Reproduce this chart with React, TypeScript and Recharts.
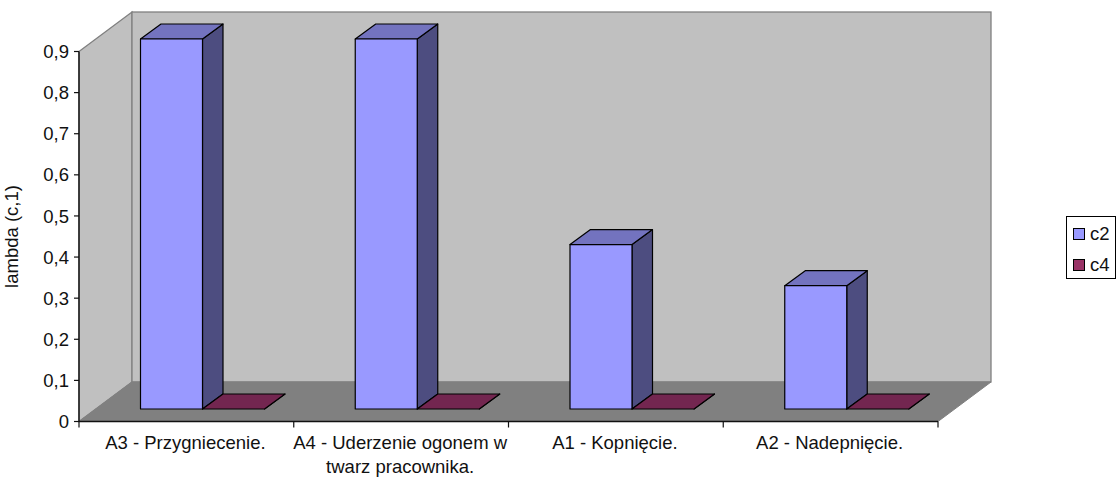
import React from "react";
import { BarChart, Bar, XAxis, YAxis, CartesianGrid, ReferenceArea, Legend, Text } from "recharts";

const categories = ["A3 - Przygniecenie.", "A4 - Uderzenie ogonem w twarz pracownika.", "A1 - Kopnięcie.", "A2 - Nadepnięcie."];
const c2Values = [0.9, 0.9, 0.4, 0.3];
const c4Values = [0, 0, 0, 0];
const yTicks = [0, 0.1, 0.2, 0.3, 0.4, 0.5, 0.6, 0.7, 0.8, 0.9];
const gridValues = [0.1, 0.2, 0.3, 0.4, 0.5, 0.6, 0.7, 0.8];
const data = categories.map((name, i) => ({ name, c2: c2Values[i], c4: c4Values[i] }));

const FONT = "'Liberation Sans', Arial, sans-serif";
const FONT_SIZE = 18.5;
const WALL_DX = 53;
const WALL_DY = 39.5;
const BAR_OFF_X = 16.5;
const BAR_OFF_Y = 12.5;
const BAR_DX = 20.5;
const BAR_DY = 15;

const Walls = (p: any) => {
  const { x, y, width, height } = p;
  const b = y + height;
  const r = x + width;
  return (
    <g>
      <polygon points={`${x},${y} ${x + WALL_DX},${y - WALL_DY} ${x + WALL_DX},${b - WALL_DY} ${x},${b}`} fill="#C0C0C0" stroke="#808080" strokeWidth={1.3} />
      <rect x={x + WALL_DX} y={y - WALL_DY} width={width} height={height} fill="#C0C0C0" stroke="#808080" strokeWidth={1.3} />
      <polygon points={`${x},${b} ${x + WALL_DX},${b - WALL_DY} ${r + WALL_DX},${b - WALL_DY} ${r},${b}`} fill="#808080" stroke="#808080" strokeWidth={1} />
    </g>
  );
};

const GridLine = (p: any) => {
  const { x1, x2, y1 } = p;
  return (
    <g key={p.key}>
      <line x1={x1} y1={y1} x2={x1 + WALL_DX} y2={y1 - WALL_DY} stroke="#111" strokeWidth={1.2} />
      <line x1={x1 + WALL_DX} y1={y1 - WALL_DY} x2={x2 + WALL_DX} y2={y1 - WALL_DY} stroke="#111" strokeWidth={1.2} />
    </g>
  );
};

const makeBar = (front: string, top: string, side: string) => (p: any) => {
  const x = p.x + BAR_OFF_X;
  const y = p.y - BAR_OFF_Y;
  const w = p.width;
  const h = p.height;
  const common = { stroke: "#000", strokeWidth: 1.2, strokeLinejoin: "round" as const };
  return (
    <g>
      <polygon points={`${x + w},${y} ${x + w + BAR_DX},${y - BAR_DY} ${x + w + BAR_DX},${y + h - BAR_DY} ${x + w},${y + h}`} fill={side} {...common} />
      <polygon points={`${x},${y} ${x + BAR_DX},${y - BAR_DY} ${x + w + BAR_DX},${y - BAR_DY} ${x + w},${y}`} fill={top} {...common} />
      <rect x={x} y={y} width={w} height={h} fill={front} {...common} />
    </g>
  );
};

const XTick = (p: any) => {
  const { x, y, index, width, visibleTicksCount, payload } = p;
  const band = width / visibleTicksCount;
  const axisY = 421.5;
  return (
    <g>
      <line x1={x - band / 2} y1={axisY} x2={x - band / 2} y2={axisY + 6} stroke="#111" strokeWidth={1.2} />
      {index === visibleTicksCount - 1 && <line x1={x + band / 2} y1={axisY} x2={x + band / 2} y2={axisY + 6} stroke="#111" strokeWidth={1.2} />}
      <Text x={x - 1} y={axisY + 14} width={205} textAnchor="middle" verticalAnchor="start" lineHeight={24} fontFamily={FONT} fontSize={FONT_SIZE} fill="#111">
        {payload.value}
      </Text>
    </g>
  );
};

const LegendBox = (p: any) => (
  <div style={{ boxSizing: "border-box", width: 50, height: 63, border: "1px solid #000", background: "#fff", fontFamily: FONT, fontSize: FONT_SIZE, color: "#111", position: "relative" }}>
    {(p.payload || []).map((e: any, i: number) => (
      <div key={e.value} style={{ position: "absolute", left: 6, top: 11 + i * 31, display: "flex", alignItems: "center", height: 12 }}>
        <span style={{ display: "inline-block", boxSizing: "border-box", width: 12, height: 12, background: e.color, border: "1px solid #000", marginRight: 5 }} />
        <span>{e.value}</span>
      </div>
    ))}
  </div>
);

export default function App() {
  return (
    <div style={{ position: "absolute", left: 0, top: 0, width: 1119, height: 481, background: "#fff" }}>
      <BarChart width={1119} height={481} data={data} barSize={62} barGap={0} margin={{ top: 51.5, right: 181, bottom: 0, left: 0 }}>
        <ReferenceArea y1={0} y2={0.9} ifOverflow="visible" shape={Walls} />
        <CartesianGrid vertical={false} horizontalValues={gridValues} horizontal={GridLine as any} />
        <XAxis dataKey="name" height={59.5} interval={0} tickLine={false} axisLine={{ stroke: "#111", strokeWidth: 1.4 }} tick={XTick} />
        <YAxis
          width={79}
          domain={[0, 0.9]}
          ticks={yTicks}
          interval={0}
          tickSize={5}
          tickMargin={5}
          tickLine={{ stroke: "#111", strokeWidth: 1.2 }}
          axisLine={{ stroke: "#111", strokeWidth: 1.4 }}
          tickFormatter={(v: number) => String(v).replace(".", ",")}
          tick={{ fontFamily: FONT, fontSize: FONT_SIZE, fill: "#111" }}
          label={{ value: "lambda (c,1)", angle: -90, position: "insideLeft", offset: 11, style: { fontFamily: FONT, fontSize: FONT_SIZE, fill: "#111", textAnchor: "middle" } }}
        />
        <Legend layout="vertical" align="center" verticalAlign="middle" content={LegendBox} wrapperStyle={{ left: 1066, top: 216, width: 50 }} />
        <Bar dataKey="c2" fill="#9999FF" isAnimationActive={false} shape={makeBar("#9999FF", "#7373BF", "#4D4D80")} />
        <Bar dataKey="c4" fill="#993366" isAnimationActive={false} shape={makeBar("#993366", "#732650", "#4D1A33")} />
      </BarChart>
    </div>
  );
}
